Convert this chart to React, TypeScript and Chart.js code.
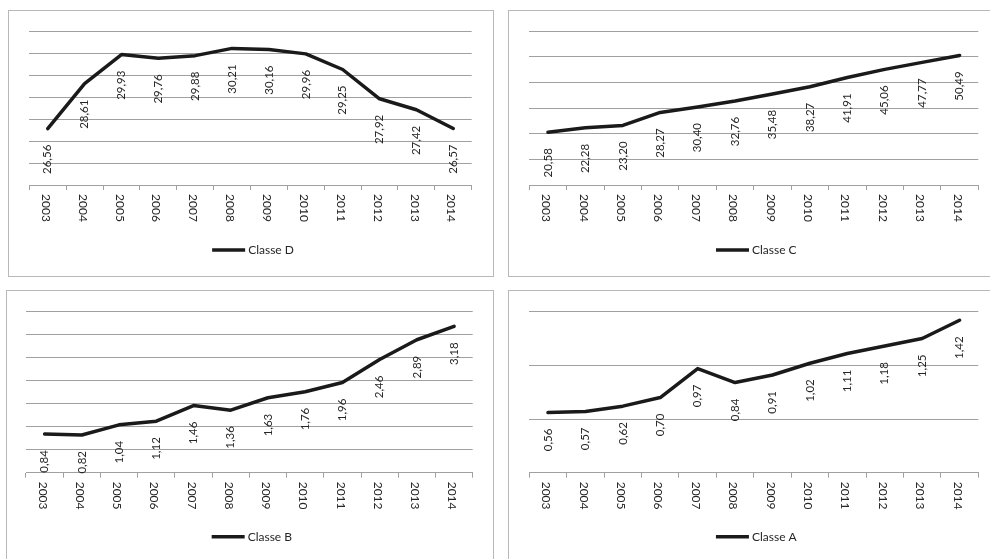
import React, { useEffect, useRef } from "react";
import { Chart, registerables } from "chart.js";

Chart.register(...registerables);

const years = ["2003", "2004", "2005", "2006", "2007", "2008", "2009", "2010", "2011", "2012", "2013", "2014"];
const classeD = [26.56, 28.61, 29.93, 29.76, 29.88, 30.21, 30.16, 29.96, 29.25, 27.92, 27.42, 26.57];
const classeC = [20.58, 22.28, 23.2, 28.27, 30.4, 32.76, 35.48, 38.27, 41.91, 45.06, 47.77, 50.49];
const classeB = [0.84, 0.82, 1.04, 1.12, 1.46, 1.36, 1.63, 1.76, 1.96, 2.46, 2.89, 3.18];
const classeA = [0.56, 0.57, 0.62, 0.7, 0.97, 0.84, 0.91, 1.02, 1.11, 1.18, 1.25, 1.42];

const FONT = 'Lato, "Open Sans", "DejaVu Sans", sans-serif';
const GRID = "#a0a0a0";
const LINE = "#1a1a1a";
const TEXT = "#262626";

const fmt = (v: number) => v.toFixed(2).replace(".", ",");

const decorPlugin = {
  id: "decor",
  afterDatasetsDraw(chart: any) {
    const ctx = chart.ctx;
    const meta = chart.getDatasetMeta(0);
    const data = chart.data.datasets[0].data as number[];
    ctx.save();
    ctx.fillStyle = TEXT;
    ctx.font = `11.5px ${FONT}`;
    ctx.textAlign = "right";
    ctx.textBaseline = "middle";
    meta.data.forEach((pt: any, i: number) => {
      ctx.save();
      ctx.translate(pt.x, pt.y + 16);
      ctx.rotate(-Math.PI / 2);
      ctx.fillText(fmt(data[i]), 0, 0);
      ctx.restore();
    });
    ctx.restore();
  },
  afterDraw(chart: any, _args: any, opts: any) {
    const ctx = chart.ctx;
    const xs = chart.scales.x;
    ctx.save();
    ctx.font = `12px ${FONT}`;
    ctx.fillStyle = TEXT;
    ctx.textAlign = "left";
    ctx.textBaseline = "middle";
    (chart.data.labels as string[]).forEach((lab, i) => {
      const px = xs.getPixelForValue(i);
      ctx.save();
      ctx.translate(px - 2, xs.top + 9);
      ctx.rotate(Math.PI / 2);
      ctx.fillText(lab, 0, 0);
      ctx.restore();
    });
    const text = chart.data.datasets[0].label as string;
    const tw = ctx.measureText(text).width;
    const lineW = 33;
    const gap = 3;
    const total = lineW + gap + tw;
    const cx = (chart.chartArea.left + chart.chartArea.right) / 2 + 2.5;
    const sx = cx - total / 2;
    const ly = opts.legendY;
    ctx.strokeStyle = LINE;
    ctx.lineWidth = 3.5;
    ctx.beginPath();
    ctx.moveTo(sx, ly);
    ctx.lineTo(sx + lineW, ly);
    ctx.stroke();
    ctx.fillStyle = TEXT;
    ctx.fillText(text, sx + lineW + gap, ly + 0.5);
    ctx.restore();
  },
};

type PanelProps = {
  left: number;
  top: number;
  width: number;
  height: number;
  label: string;
  values: number[];
  min: number;
  max: number;
  step: number;
  padLeft: number;
  padRight: number;
  padTop: number;
  axisY: number;
  legendY: number;
};

function Panel(p: PanelProps) {
  const ref = useRef<HTMLCanvasElement | null>(null);
  const cw = p.width - 2;
  const ch = p.height - 2;
  useEffect(() => {
    if (!ref.current) return;
    const chart = new Chart(ref.current, {
      type: "line",
      data: {
        labels: years,
        datasets: [
          {
            label: p.label,
            data: p.values,
            borderColor: LINE,
            backgroundColor: LINE,
            borderWidth: 3.5,
            pointRadius: 0,
            tension: 0,
            borderJoinStyle: "round",
            borderCapStyle: "round",
            clip: false as any,
          },
        ],
      },
      options: {
        responsive: false,
        animation: false,
        devicePixelRatio: 1,
        layout: { padding: { left: p.padLeft, right: p.padRight, top: p.padTop, bottom: 0 } },
        plugins: {
          legend: { display: false },
          tooltip: { enabled: false },
          decor: { legendY: p.legendY },
        } as any,
        scales: {
          x: {
            type: "category",
            offset: true,
            grid: {
              offset: true,
              drawOnChartArea: false,
              drawTicks: true,
              tickLength: 5,
              color: GRID,
            },
            border: { display: true, color: GRID, width: 1 },
            ticks: { display: false },
            afterFit: (scale: any) => {
              scale.height = ch - p.axisY;
            },
          },
          y: {
            min: p.min,
            max: p.max,
            ticks: { display: false, stepSize: p.step },
            grid: { color: GRID, drawTicks: false, lineWidth: 1 },
            border: { display: false },
            afterFit: (scale: any) => {
              scale.width = 0;
            },
          },
        },
      },
      plugins: [decorPlugin as any],
    });
    return () => chart.destroy();
  }, []);
  return (
    <div
      style={{
        position: "absolute",
        left: p.left,
        top: p.top,
        width: p.width,
        height: p.height,
        border: "1px solid #b8b8b8",
        boxSizing: "border-box",
        background: "#ffffff",
      }}
    >
      <canvas ref={ref} width={cw} height={ch} style={{ position: "absolute", left: 0, top: 0, width: cw, height: ch }} />
    </div>
  );
}

export default function App() {
  return (
    <div
      style={{
        position: "fixed",
        left: 0,
        top: 0,
        width: 990,
        height: 559,
        overflow: "hidden",
        background: "#ffffff",
      }}
    >
      <Panel left={8} top={10} width={486} height={267} label="Classe D" values={classeD} min={24} max={31} step={1}
        padLeft={20.3} padRight={21.3} padTop={20} axisY={174} legendY={239} />
      <Panel left={508} top={10} width={500} height={267} label="Classe C" values={classeC} min={0} max={60} step={10}
        padLeft={20.3} padRight={28.7} padTop={20} axisY={174} legendY={239} />
      <Panel left={6} top={290} width={488} height={290} label="Classe B" values={classeB} min={0} max={3.5} step={0.5}
        padLeft={19} padRight={20.3} padTop={20.7} axisY={181.7} legendY={245.7} />
      <Panel left={508} top={290} width={500} height={290} label="Classe A" values={classeA} min={0} max={1.5} step={0.5}
        padLeft={20.3} padRight={28.7} padTop={20.7} axisY={181.7} legendY={245.7} />
    </div>
  );
}
